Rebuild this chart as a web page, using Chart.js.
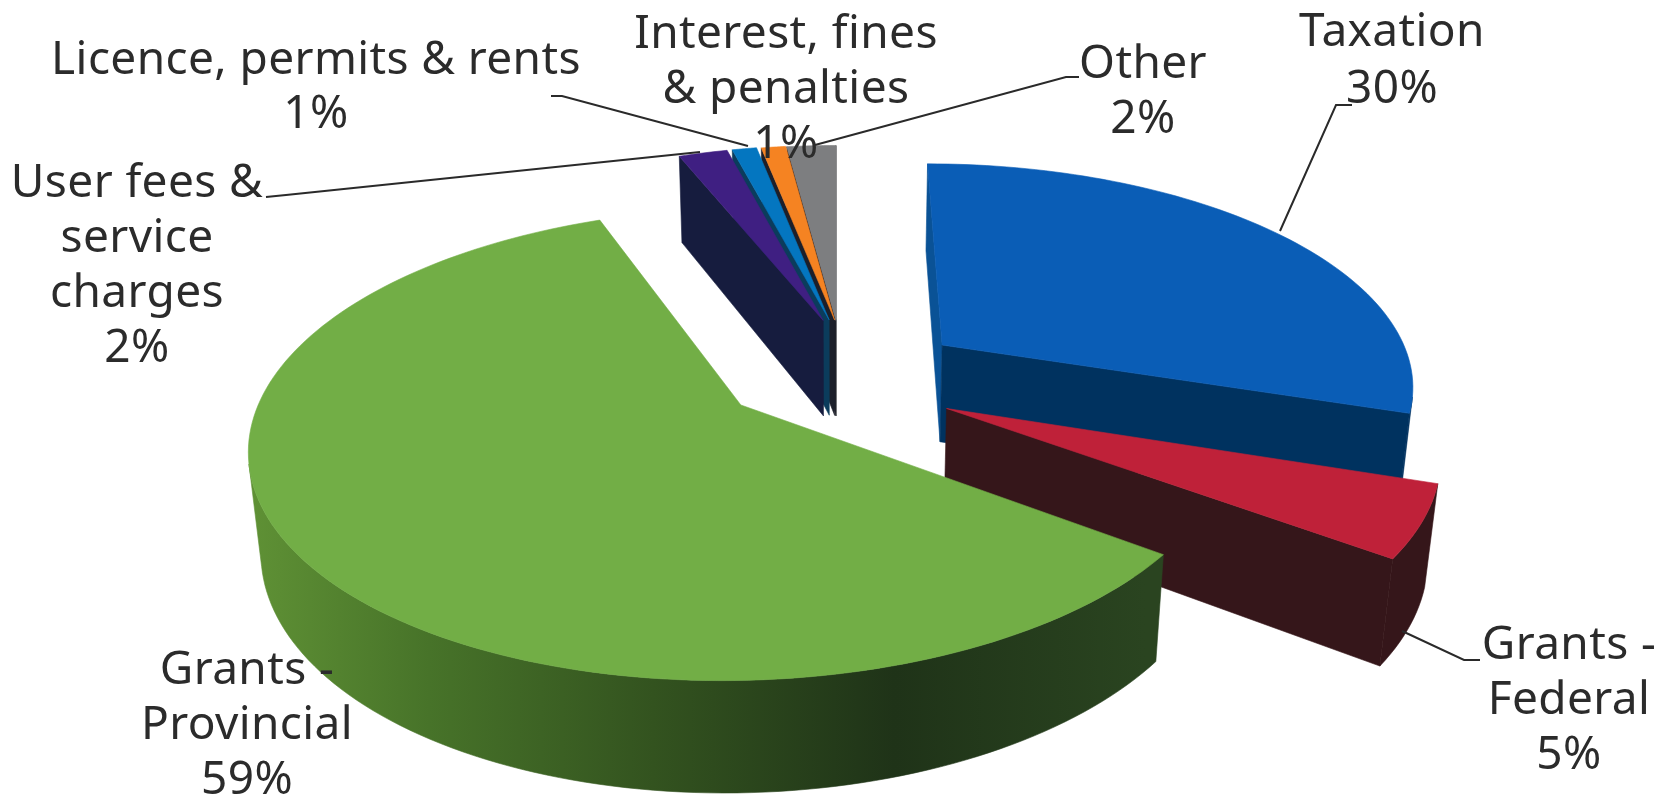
<!DOCTYPE html>
<html>
<head>
<meta charset="utf-8">
<title>Revenue by source</title>
<style>
    html, body { margin: 0; padding: 0; background: #fff; overflow: hidden; }
    canvas { display: block; }
</style>
<script src="https://cdn.jsdelivr.net/npm/chart.js@4"></script>
</head>
<body>
<canvas id="revenueChart" width="1667" height="801"></canvas>
<script>
// Data
const categories = ['Taxation', 'Grants - Federal', 'Grants - Provincial', 'User fees & service charges', 'Licence, permits & rents', 'Interest, fines & penalties', 'Other'];
const shares = [30, 5, 59, 2, 1, 1, 2];

// Slice styling
const topColors = ['#0a5db6', '#bf2139', '#72ae46', '#3f1f82', '#0476c0', '#f58322', '#7d7e80'];
const wallColors = ['#00325f', '#35161a', '#2d4a20', '#161c3e', '#0b3c5c', '#3a2a1c', '#26282c'];
const startWallColors = ['#0a5296', '#35161a', '#2d4a20', '#161c3e', '#0b3c5c', '#1c1f2a', '#1c1f2a'];
const explodeOffsets = [91, 84, 82, 98, 102, 104, 104];
const drawOrder = [6, 5, 4, 3, 0, 1, 2];
// Extra sideways shift per slice, in pie radii
const sliceNudge = [[0, -0.005], [-0.005, -0.03], [-0.03, 0.02], [0.04, 0], [0.03, -0.015], [0.025, -0.025], [0, -0.03]];

// Camera looking down on the pie; the radius is one world unit
const camera = { cx: 836, cy: 382, f: 2558, dist: 5.39, elevation: 27.9 * Math.PI / 180 };
const pieShift = { x: 0.0187, y: 0.0225 };
const pieThickness = 0.24;

// Label layout: text lines are centred on x, one baseline per line
const labelFont = '46px "Noto Sans"';
const labelLayout = [
    { lines: ['Taxation'], x: 1392, y: 46, step: 57, leader: [[1352, 105], [1336, 105], [1280, 231]] },
    { lines: ['Grants -', 'Federal'], x: 1569, y: 659, step: 55, leader: [[1402, 631], [1464, 660], [1480, 660]] },
    { lines: ['Grants -', 'Provincial'], x: 247, y: 684, step: 55 },
    { lines: ['User fees &', 'service', 'charges'], x: 137, y: 197, step: 55, leader: [[266, 197], [286, 195], [700, 152]] },
    { lines: ['Licence, permits & rents'], x: 316, y: 74, step: 54, leader: [[551, 96], [562, 96], [748, 146]] },
    { lines: ['Interest, fines', '& penalties'], x: 786, y: 48, step: 55 },
    { lines: ['Other'], x: 1143, y: 78, step: 55, leader: [[1079, 77], [1066, 77], [815, 145]] }
];

function project(x, y, z) {
    const s = Math.sin(camera.elevation);
    const c = Math.cos(camera.elevation);
    const depth = camera.dist + y * c - z * s;
    return {
        x: camera.cx + camera.f * x / depth,
        y: camera.cy - camera.f * (y * s + z * c) / depth
    };
}

function fillPolygon(ctx, points, fill) {
    ctx.beginPath();
    points.forEach((p, i) => (i ? ctx.lineTo(p.x, p.y) : ctx.moveTo(p.x, p.y)));
    ctx.closePath();
    ctx.fillStyle = fill;
    ctx.strokeStyle = fill;
    ctx.lineWidth = 0.6;
    ctx.fill();
    ctx.stroke();
}

// Walls are wound so that a negative screen area means they face the camera
function facesCamera(points) {
    let area = 0;
    points.forEach((p, i) => {
        const q = points[(i + 1) % points.length];
        area += p.x * q.y - q.x * p.y;
    });
    return area < 0;
}

function fillWall(ctx, points, fill) {
    if (facesCamera(points)) fillPolygon(ctx, points, fill);
}

// Green rim goes from lit on the left to nearly black on the right
function rimFill(ctx, index) {
    if (index !== 2) return wallColors[index];
    const gradient = ctx.createLinearGradient(250, 0, 1145, 0);
    gradient.addColorStop(0, '#5f9135');
    gradient.addColorStop(0.2, '#477329');
    gradient.addColorStop(0.45, '#33531f');
    gradient.addColorStop(0.72, '#1f3318');
    gradient.addColorStop(1, '#2a4420');
    return gradient;
}

function drawSlice(ctx, arc, index) {
    const offset = arc.options.offset / arc.outerRadius;
    const mid = (arc.startAngle + arc.endAngle) / 2;
    const ox = pieShift.x + sliceNudge[index][0] + Math.cos(mid) * offset;
    const oy = pieShift.y + sliceNudge[index][1] - Math.sin(mid) * offset;

    const steps = Math.max(8, Math.ceil((arc.endAngle - arc.startAngle) * 40));
    const rimTop = [];
    const rimBottom = [];
    for (let i = 0; i <= steps; i++) {
        const a = arc.startAngle + (arc.endAngle - arc.startAngle) * i / steps;
        const wx = ox + Math.cos(a);
        const wy = oy - Math.sin(a);
        rimTop.push(project(wx, wy, 0));
        rimBottom.push(project(wx, wy, -pieThickness));
    }
    const apexTop = project(ox, oy, 0);
    const apexBottom = project(ox, oy, -pieThickness);

    fillWall(ctx, [apexTop, rimTop[0], rimBottom[0], apexBottom], startWallColors[index]);
    fillWall(ctx, [rimTop[steps], apexTop, apexBottom, rimBottom[steps]], wallColors[index]);
    const rimPath = [];
    for (let i = 0; i < steps; i++) {
        if (!facesCamera([rimTop[i], rimTop[i + 1], rimBottom[i + 1], rimBottom[i]])) continue;
        rimPath.push(i);
    }
    if (rimPath.length) {
        const from = rimPath[0];
        const to = rimPath[rimPath.length - 1] + 1;
        const upper = rimTop.slice(from, to + 1);
        const lower = rimBottom.slice(from, to + 1).reverse();
        fillPolygon(ctx, upper.concat(lower), rimFill(ctx, index));
    }
    fillPolygon(ctx, [apexTop].concat(rimTop), arc.options.backgroundColor);
}

const extrudedPie = {
    id: 'extrudedPie',
    beforeDatasetsDraw(chart) {
        const arcs = chart.getDatasetMeta(0).data;
        drawOrder.forEach(i => drawSlice(chart.ctx, arcs[i], i));
        return false;
    }
};

const sliceLabels = {
    id: 'sliceLabels',
    afterDraw(chart) {
        const ctx = chart.ctx;
        ctx.save();
        ctx.strokeStyle = '#2a2a2a';
        ctx.lineWidth = 2;
        labelLayout.forEach(label => {
            if (!label.leader) return;
            ctx.beginPath();
            label.leader.forEach((p, i) => (i ? ctx.lineTo(p[0], p[1]) : ctx.moveTo(p[0], p[1])));
            ctx.stroke();
        });
        ctx.font = labelFont;
        ctx.letterSpacing = '0.4px';
        ctx.fillStyle = '#2b2b2b';
        ctx.textAlign = 'center';
        ctx.textBaseline = 'alphabetic';
        labelLayout.forEach((label, i) => {
            const lines = label.lines.concat(shares[i] + '%');
            lines.forEach((line, n) => ctx.fillText(line, label.x, label.y + n * label.step));
        });
        ctx.restore();
    }
};

new Chart(document.getElementById('revenueChart'), {
    type: 'pie',
    data: {
        labels: categories,
        datasets: [{
            data: shares,
            backgroundColor: topColors,
            borderWidth: 0,
            offset: explodeOffsets
        }]
    },
    options: {
        responsive: false,
        animation: false,
        plugins: { legend: { display: false }, tooltip: { enabled: false } }
    },
    plugins: [extrudedPie, sliceLabels]
});
</script>
</body>
</html>
